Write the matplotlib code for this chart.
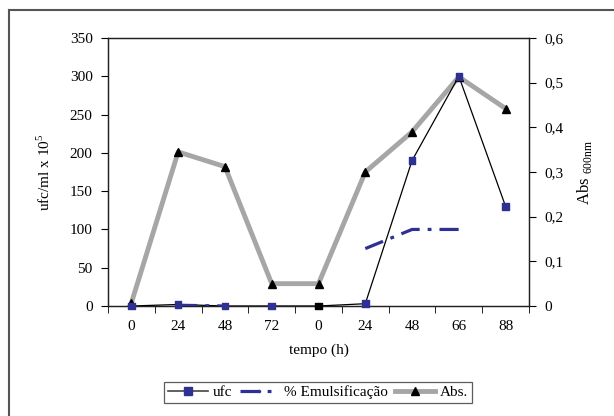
import numpy as np
import matplotlib.pyplot as plt
from matplotlib.lines import Line2D

plt.rcParams['font.family'] = ['Liberation Serif', 'DejaVu Serif']
plt.rcParams['mathtext.fontset'] = 'custom'
plt.rcParams['mathtext.rm'] = 'Liberation Serif'

# sampling times (h), two consecutive runs
tempo = ['0', '24', '48', '72', '0', '24', '48', '66', '88']
ufc = [0, 2, 0, 0, 0, 3, 190, 300, 130]           # ufc/ml x 10^5
emulsificacao = [np.nan, 1, 0, np.nan, np.nan, 75, 100, 100, np.nan]  # %
absorbancia = [0.007, 0.345, 0.312, 0.05, 0.05, 0.30, 0.39, 0.513, 0.442]

blue = '#2E3192'
grey = '#A6A6A6'
emul_dash = [6, 2.5, 1.2, 2.5]

x = np.arange(len(tempo))

fig = plt.figure(figsize=(6.14, 4.16), dpi=100)
ax = fig.add_axes([0.1759, 0.2644, 0.6857, 0.6442])
ax2 = ax.twinx()

# absorbance on the right axis, drawn underneath
ax2.plot(x, absorbancia, color=grey, lw=3.5, zorder=1)
ax2.plot(x, absorbancia, ls='none', marker='^', ms=6, color='black', zorder=2)
ax2.set_ylim(0, 0.6)
ax2.set_yticks(np.arange(0, 0.61, 0.1))
ax2.set_yticklabels(['0'] + [f'{v:.1f}'.replace('.', ',') for v in np.arange(0.1, 0.61, 0.1)])
ax2.set_ylabel('Abs $_{\\mathregular{600nm}}$', fontsize=12, labelpad=8)

ax.set_zorder(ax2.get_zorder() + 1)
ax.patch.set_visible(False)

ax.plot(x, ufc, color='black', lw=0.9, zorder=3)
colors = [blue] * len(x)
colors[4] = 'black'
ax.scatter(x, ufc, marker='s', s=22, c=colors, zorder=4, clip_on=False)
ax.plot(x, emulsificacao, color=blue, lw=2.3, dashes=emul_dash, zorder=3)

ax.set_xlim(-0.5, len(x) - 0.5)
ax.set_ylim(0, 350)
ax.set_yticks(range(0, 351, 50))
ax.set_xticks(x)
ax.set_xticklabels(tempo)
ax.set_xticks(np.arange(-0.5, len(x), 1), minor=True)
ax.tick_params(axis='x', which='major', length=0, pad=10)
ax.tick_params(axis='x', which='minor', length=5, direction='out')
ax.set_xlabel('tempo (h)', fontsize=11, labelpad=8)
ax.set_ylabel('ufc/ml x 10$^{5}$', fontsize=11, labelpad=12)

for a in (ax, ax2):
    a.tick_params(axis='y', length=5, direction='out', labelsize=11, width=0.8)
    a.tick_params(axis='x', labelsize=11, width=0.8)
    for s in a.spines.values():
        s.set_linewidth(0.9)
        s.set_color('#222222')
ax2.tick_params(axis='y', pad=6)
ax.tick_params(axis='y', pad=6)

handles = [
    Line2D([], [], color='#444444', lw=1.2, marker='s', ms=6, mfc=blue, mec=blue),
    Line2D([], [], color=blue, lw=2.3, dashes=emul_dash, marker='.', ms=3),
    Line2D([], [], color=grey, lw=3.5, marker='^', ms=6, mfc='black', mec='black'),
]
leg = fig.legend(handles, ['ufc', '% Emulsificação', 'Abs.'], loc='center',
                 bbox_to_anchor=(0.518, 0.0565), ncol=3, fontsize=11,
                 frameon=True, fancybox=False, edgecolor='#333333',
                 handlelength=2.6, handletextpad=0.3, columnspacing=0.5,
                 borderpad=0.25)
leg.get_frame().set_linewidth(0.9)

# outer frame (left and top edges)
fig.add_artist(Line2D([0.0147, 0.0147], [0, 0.976], color='#555555', lw=1.5,
                      transform=fig.transFigure))
fig.add_artist(Line2D([0.0147, 1.0], [0.976, 0.976], color='#555555', lw=1.5,
                      transform=fig.transFigure))

fig.savefig('out.png', dpi=100)
